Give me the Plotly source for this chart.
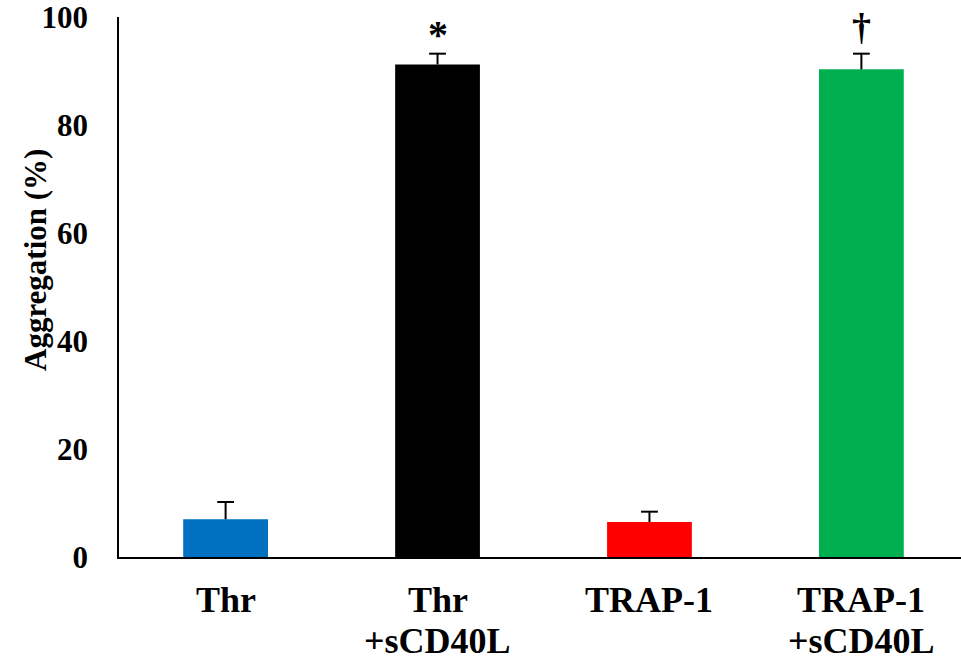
import plotly.graph_objects as go

categories = ["Thr", "Thr +sCD40L", "TRAP-1", "TRAP-1 +sCD40L"]
label_line1 = ["Thr", "Thr", "TRAP-1", "TRAP-1"]
label_line2 = ["", "+sCD40L", "", "+sCD40L"]
means = [7.0, 91.3, 6.5, 90.4]
errors = [3.2, 2.0, 1.9, 2.9]
colors = ["#0070C0", "#000000", "#FF0000", "#00B050"]
marks = ["", "*", "", "†"]
y_ticks = [0, 20, 40, 60, 80, 100]

FONT = "Liberation Serif, Times New Roman, serif"

fig = go.Figure()
fig.add_trace(go.Bar(
    x=categories, y=means, width=0.40,
    marker=dict(color=colors, line=dict(width=0)),
    error_y=dict(type="data", array=errors, symmetric=False,
                 arrayminus=[0] * len(errors),
                 color="black", thickness=2, width=0),
    showlegend=False,
))
# caps on top of the error bars only
fig.add_trace(go.Scatter(
    x=categories, y=[m + e for m, e in zip(means, errors)], mode="markers",
    marker=dict(symbol="line-ew", size=12, line=dict(color="black", width=2)),
    showlegend=False, hoverinfo="skip",
))

annotations = []
for c, l1, l2 in zip(categories, label_line1, label_line2):
    annotations.append(dict(x=c, xref="x", y=0, yref="paper", text="<b>%s</b>" % l1,
                            showarrow=False, yanchor="middle", yshift=-43,
                            font=dict(family=FONT, size=36, color="black")))
    if l2:
        annotations.append(dict(x=c, xref="x", y=0, yref="paper", text="<b>%s</b>" % l2,
                                showarrow=False, yanchor="middle", yshift=-84,
                                font=dict(family=FONT, size=36, color="black")))
mark_shift = {"*": 19, "†": 27}
mark_size = {"*": 40, "†": 38}
for c, m, e, mk in zip(categories, means, errors, marks):
    if mk:
        annotations.append(dict(x=c, xref="x", y=m + e, yref="y", text="<b>%s</b>" % mk,
                                showarrow=False, yanchor="middle", yshift=mark_shift[mk],
                                font=dict(family=FONT, size=mark_size[mk], color="black")))
annotations.append(dict(x=0, xref="paper", y=0.55, yref="paper",
                        text="<b>Aggregation (%)</b>", textangle=-90,
                        showarrow=False, xanchor="center", yanchor="middle", xshift=-84,
                        font=dict(family=FONT, size=31, color="black")))

fig.update_layout(
    width=961, height=663,
    margin=dict(l=119, r=0, t=17, b=106),
    plot_bgcolor="white", paper_bgcolor="white",
    annotations=annotations,
    xaxis=dict(range=[-0.503, 3.47], showticklabels=False, ticks="",
               showline=True, linecolor="black", linewidth=2, showgrid=False,
               zeroline=False, fixedrange=True),
    yaxis=dict(range=[0, 100.1], tickvals=y_ticks, ticks="", showgrid=False,
               showline=True, linecolor="black", linewidth=1.5, zeroline=False,
               ticklabelstandoff=23,
               tickfont=dict(family=FONT, size=31, color="black", weight="bold")),
)

fig.write_html("out.html")
